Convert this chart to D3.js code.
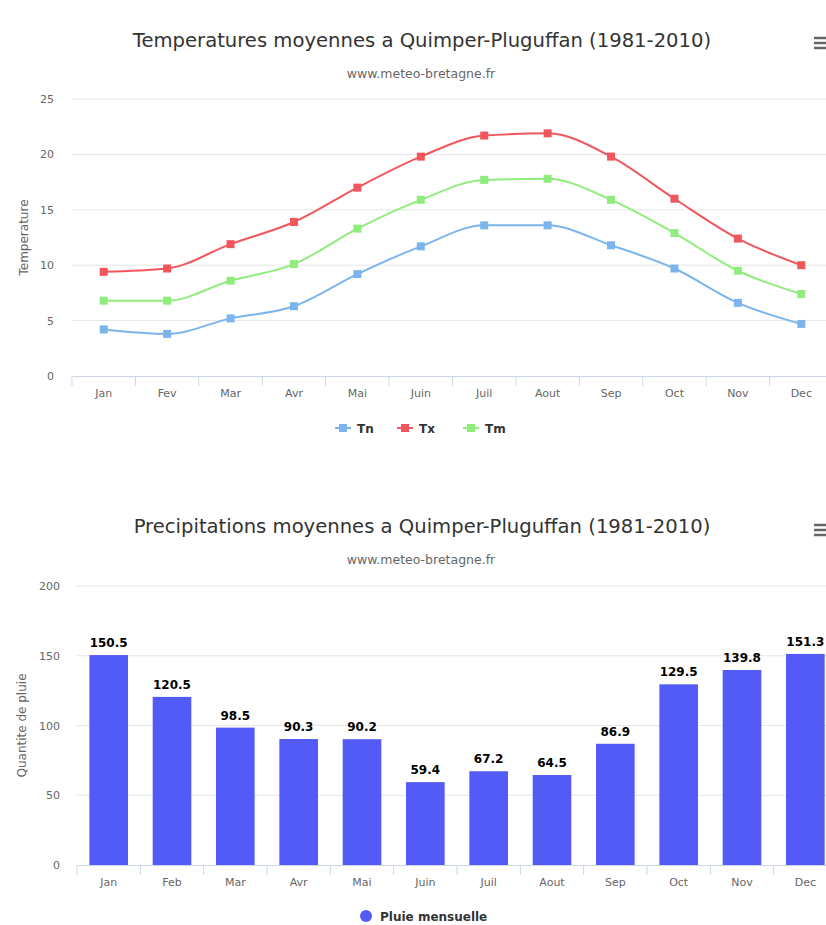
<!DOCTYPE html>
<html>
<head>
<meta charset="utf-8">
<script src="https://cdn.jsdelivr.net/npm/d3@7"></script>
<style>
  html, body { margin: 0; padding: 0; background: #fff; overflow: hidden; }
  svg { display: block; }
  text { font-family: "DejaVu Sans", "Lucida Grande", sans-serif; }
</style>
</head>
<body>
<svg id="chart" width="826" height="925"></svg>
<script>
// ---------- DATA ----------
const monthsTemp = ["Jan","Fev","Mar","Avr","Mai","Juin","Juil","Aout","Sep","Oct","Nov","Dec"];
const tn = [4.2, 3.8, 5.2, 6.3, 9.2, 11.7, 13.6, 13.6, 11.8, 9.7, 6.6, 4.7];
const tx = [9.4, 9.7, 11.9, 13.9, 17.0, 19.8, 21.7, 21.9, 19.8, 16.0, 12.4, 10.0];
const tm = [6.8, 6.8, 8.6, 10.1, 13.3, 15.9, 17.7, 17.8, 15.9, 12.9, 9.5, 7.4];
const tempTicks = [0, 5, 10, 15, 20, 25];

const monthsRain = ["Jan","Feb","Mar","Avr","Mai","Juin","Juil","Aout","Sep","Oct","Nov","Dec"];
const rain = [150.5, 120.5, 98.5, 90.3, 90.2, 59.4, 67.2, 64.5, 86.9, 129.5, 139.8, 151.3];
const rainTicks = [0, 50, 100, 150, 200];

const seriesNames = ["Tn", "Tx", "Tm"];
const seriesColors = ["#7cb5ec", "#f0575d", "#90ed7d"];

// ---------- SETUP ----------
const svg = d3.select("#chart");
const gridColor = "#e6e6e6";
const axisColor = "#ccd6eb";
const labelColor = "#666666";

function menuIcon(x, y) {
  const g = svg.append("g");
  [0, 5, 10].forEach(dy => {
    g.append("line").attr("x1", x).attr("x2", x + 14)
      .attr("y1", y + dy).attr("y2", y + dy)
      .attr("stroke", "#666").attr("stroke-width", 2.5);
  });
}

function titles(title, sub, ty, sy) {
  svg.append("text").attr("x", 422).attr("y", ty).attr("text-anchor", "middle")
    .attr("font-size", 19.6).attr("fill", "#333").text(title);
  svg.append("text").attr("x", 421).attr("y", sy).attr("text-anchor", "middle")
    .attr("font-size", 12.5).attr("fill", labelColor).text(sub);
}

// ---------- CHART 1: temperatures ----------
(function () {
  const left = 72, right = 833, top = 99, bottom = 376;
  titles("Temperatures moyennes a Quimper-Pluguffan (1981-2010)", "www.meteo-bretagne.fr", 47, 78);
  menuIcon(814, 38);

  const x = d3.scaleBand().domain(monthsTemp).range([left, right]);
  const y = d3.scaleLinear().domain([0, 25]).range([bottom, top]);

  svg.append("g").selectAll("line").data(tempTicks.filter(d => d > 0)).join("line")
    .attr("x1", left).attr("x2", right)
    .attr("y1", d => y(d)).attr("y2", d => y(d))
    .attr("stroke", gridColor).attr("stroke-width", 1);

  const ya = svg.append("g").attr("transform", `translate(${left},0)`)
    .call(d3.axisLeft(y).tickValues(tempTicks).tickSize(0).tickPadding(18));
  ya.select(".domain").remove();
  ya.selectAll("text").attr("fill", labelColor).attr("font-size", 11)
    .style("font-family", "DejaVu Sans");

  const xa = svg.append("g").attr("transform", `translate(0,${bottom})`)
    .call(d3.axisBottom(x).tickSize(0).tickPadding(13));
  xa.select(".domain").attr("stroke", axisColor);
  xa.selectAll("text").attr("fill", labelColor).attr("font-size", 11)
    .style("font-family", "DejaVu Sans");
  svg.append("g").selectAll("line").data(monthsTemp).join("line")
    .attr("x1", d => x(d)).attr("x2", d => x(d))
    .attr("y1", bottom).attr("y2", bottom + 10)
    .attr("stroke", axisColor);

  svg.append("text").attr("transform", `translate(28,${(top + bottom) / 2}) rotate(-90)`)
    .attr("text-anchor", "middle").attr("font-size", 12).attr("fill", labelColor)
    .text("Temperature");

  const line = d3.line()
    .x((d, i) => x(monthsTemp[i]) + x.bandwidth() / 2)
    .y(d => y(d))
    .curve(d3.curveMonotoneX);

  const all = [tn, tx, tm];
  all.forEach((s, k) => {
    svg.append("path").datum(s).attr("d", line)
      .attr("fill", "none").attr("stroke", seriesColors[k]).attr("stroke-width", 2);
    svg.append("g").selectAll("rect").data(s).join("rect")
      .attr("x", (d, i) => x(monthsTemp[i]) + x.bandwidth() / 2 - 4)
      .attr("y", d => y(d) - 4)
      .attr("width", 8).attr("height", 8)
      .attr("fill", seriesColors[k]);
  });

  const legX = [335, 397, 463];
  seriesNames.forEach((n, k) => {
    const g = svg.append("g").attr("transform", `translate(${legX[k]},428)`);
    g.append("line").attr("x1", 0).attr("x2", 16).attr("y1", 0).attr("y2", 0)
      .attr("stroke", seriesColors[k]).attr("stroke-width", 2);
    g.append("rect").attr("x", 4).attr("y", -4).attr("width", 8).attr("height", 8)
      .attr("fill", seriesColors[k]);
    g.append("text").attr("x", 22).attr("y", 4.5).attr("font-size", 12)
      .attr("font-weight", "bold").attr("fill", "#333").text(n);
  });
})();

// ---------- CHART 2: precipitation ----------
(function () {
  const left = 77, right = 837, top = 586, bottom = 865;
  titles("Precipitations moyennes a Quimper-Pluguffan (1981-2010)", "www.meteo-bretagne.fr", 533, 564);
  menuIcon(814, 525);

  const x = d3.scaleBand().domain(monthsRain).range([left, right]);
  const y = d3.scaleLinear().domain([0, 200]).range([bottom, top]);

  svg.append("g").selectAll("line").data(rainTicks.filter(d => d > 0)).join("line")
    .attr("x1", left).attr("x2", right)
    .attr("y1", d => y(d)).attr("y2", d => y(d))
    .attr("stroke", gridColor).attr("stroke-width", 1);

  const ya = svg.append("g").attr("transform", `translate(${left},0)`)
    .call(d3.axisLeft(y).tickValues(rainTicks).tickSize(0).tickPadding(17));
  ya.select(".domain").remove();
  ya.selectAll("text").attr("fill", labelColor).attr("font-size", 11)
    .style("font-family", "DejaVu Sans");

  const barW = x.bandwidth() * 0.61;
  svg.append("g").selectAll("rect").data(rain).join("rect")
    .attr("x", (d, i) => x(monthsRain[i]) + (x.bandwidth() - barW) / 2)
    .attr("y", d => y(d))
    .attr("width", barW)
    .attr("height", d => bottom - y(d))
    .attr("fill", "#535bf6");

  svg.append("g").selectAll("text").data(rain).join("text")
    .attr("x", (d, i) => x(monthsRain[i]) + x.bandwidth() / 2)
    .attr("y", d => y(d) - 8)
    .attr("text-anchor", "middle").attr("font-size", 12).attr("font-weight", "bold")
    .attr("fill", "#000").text(d => d.toFixed(1));

  const xa = svg.append("g").attr("transform", `translate(0,${bottom})`)
    .call(d3.axisBottom(x).tickSize(0).tickPadding(13));
  xa.select(".domain").attr("stroke", axisColor);
  xa.selectAll("text").attr("fill", labelColor).attr("font-size", 11)
    .style("font-family", "DejaVu Sans");
  svg.append("g").selectAll("line").data(monthsRain).join("line")
    .attr("x1", d => x(d)).attr("x2", d => x(d))
    .attr("y1", bottom).attr("y2", bottom + 10)
    .attr("stroke", axisColor);

  svg.append("text").attr("transform", `translate(26,${(top + bottom) / 2}) rotate(-90)`)
    .attr("text-anchor", "middle").attr("font-size", 12).attr("fill", labelColor)
    .text("Quantite de pluie");

  const g = svg.append("g").attr("transform", "translate(366,916)");
  g.append("circle").attr("r", 6).attr("fill", "#535bf6");
  g.append("text").attr("x", 14).attr("y", 4.5).attr("font-size", 12)
    .attr("font-weight", "bold").attr("fill", "#333").text("Pluie mensuelle");
})();
</script>
</body>
</html>
